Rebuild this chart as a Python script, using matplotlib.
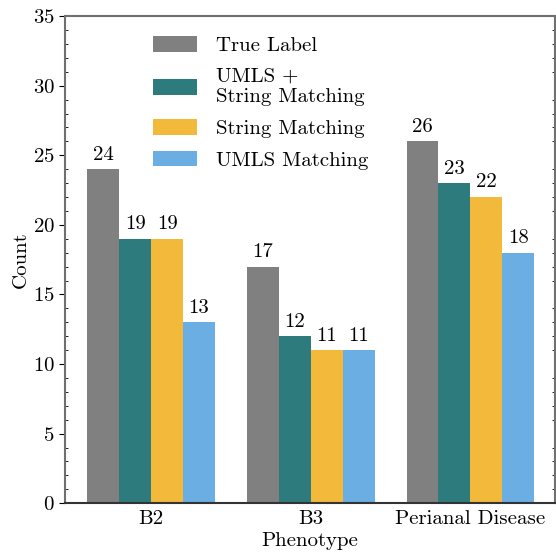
import numpy as np
import matplotlib
matplotlib.use("Agg")
import matplotlib.pyplot as plt
from matplotlib.ticker import MultipleLocator

plt.rcParams['font.family'] = 'serif'
plt.rcParams['font.serif'] = ['cmr10']
plt.rcParams['mathtext.fontset'] = 'cm'
plt.rcParams['axes.formatter.use_mathtext'] = True

categories = ['B2', 'B3', 'Perianal Disease']
series = ['True Label', 'UMLS +\nString Matching', 'String Matching', 'UMLS Matching']
values = [
    [24, 17, 26],
    [19, 12, 23],
    [19, 11, 22],
    [13, 11, 18],
]
colors = ['#808080', '#2e7b7e', '#f2b93b', '#6aaee3']

fig = plt.figure(figsize=(5.56, 5.56), dpi=100)
ax = fig.add_axes([0.117, 0.095, 0.881, 0.876])

x = np.arange(len(categories))
w = 0.2
for i, (name, vals) in enumerate(zip(series, values)):
    bars = ax.bar(x + (i - 1.5) * w, vals, w, color=colors[i], label=name)
    ax.bar_label(bars, padding=4, fontsize=15)

ax.set_xlim(-0.54, 2.53)
ax.set_ylim(0, 35)
ax.set_xticks(x)
ax.set_xticklabels(categories)
ax.yaxis.set_major_locator(MultipleLocator(5))
ax.yaxis.set_minor_locator(MultipleLocator(1))
ax.tick_params(axis='both', labelsize=15)
ax.tick_params(axis='y', which='major', direction='out', length=4, right=True)
ax.tick_params(axis='y', which='minor', direction='in', length=2, right=True)
ax.tick_params(axis='x', length=0, pad=5)
ax.set_xlabel('Phenotype', fontsize=15, labelpad=3)
ax.set_ylabel('Count', fontsize=15, labelpad=2)

for s in ['left', 'top', 'right']:
    ax.spines[s].set_color('#707070')
    ax.spines[s].set_linewidth(1.5)
ax.spines['bottom'].set_color('#333333')
ax.spines['bottom'].set_linewidth(1.5)

ax.legend(loc='upper left', bbox_to_anchor=(0.14, 1.0), frameon=False, fontsize=15,
          handlelength=2.1, handleheight=0.8, labelspacing=0.6, handletextpad=0.9,
          borderaxespad=0.55)

fig.savefig('out.png', dpi=100)
